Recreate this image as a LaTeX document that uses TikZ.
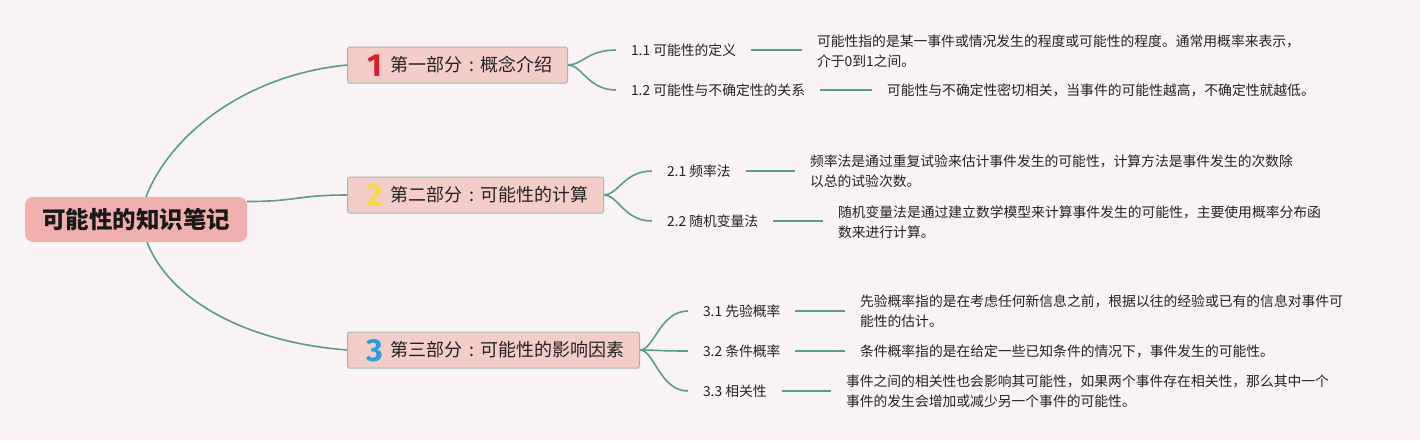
\documentclass[tikz,border=0pt]{standalone}
\usepackage{fontspec}
\setmainfont{Noto Sans CJK SC}
\newfontfamily\numfont{Fira Sans}
\definecolor{bgcol}{HTML}{F9F3F5}
\definecolor{conncol}{HTML}{5B9C88}
\definecolor{rootfill}{HTML}{F0B0AD}
\definecolor{boxfill}{HTML}{F3CDC8}
\definecolor{boxline}{HTML}{A3B8AE}
\definecolor{textcol}{HTML}{222222}
\definecolor{numred}{HTML}{D91F2B}
\definecolor{numyellow}{HTML}{F5DA48}
\definecolor{numblue}{HTML}{2D9CDB}
\newcommand\pnum[2]{\makebox[25pt][c]{\raisebox{-4.5pt}{\color{#1}\numfont\bfseries\fontsize{32}{32}\selectfont #2}}\hspace{3pt}}
\newcommand\ccolon{\makebox[18pt][c]{:}}
\begin{document}
\begin{tikzpicture}[x=1pt,y=-1pt,
  conn/.style={draw=conncol, line width=1.6pt},
  rootbox/.style={fill=rootfill, rounded corners=8pt, minimum width=222pt, minimum height=45pt, inner sep=0pt, font=\fontsize{23.5}{26}\selectfont\bfseries, text=black!90},
  partbox/.style={fill=boxfill, draw=boxline, line width=1pt, rounded corners=1.5pt, minimum height=36pt, inner xsep=15pt, inner ysep=0pt, text height=15pt, text depth=2pt, anchor=west, font=\fontsize{18}{20}\selectfont, text=textcol},
  leaf/.style={inner sep=0pt, outer xsep=15pt, anchor=west, font=\fontsize{13.8}{20}\selectfont, text=textcol},
  desc/.style={inner sep=0pt, outer xsep=15pt, anchor=west, align=left, font=\fontsize{13.8}{20}\selectfont, text=textcol}]
\fill[bgcol] (0,0) rectangle (1420,440);
\useasboundingbox (0,0) rectangle (1420,440);

\node[rootbox] (root) at (136,219.5) {可能性的知识笔记};

\node[partbox] (b1) at (347,65) {\pnum{numred}{1}第一部分\ccolon 概念介绍};
\node[partbox] (b2) at (347,195) {\pnum{numyellow}{2}第二部分\ccolon 可能性的计算};
\node[partbox] (b3) at (347,350) {\pnum{numblue}{3}第三部分\ccolon 可能性的影响因素};

\node[leaf] (l11) at (616,50) {1.1 可能性的定义};
\node[leaf] (l12) at (616,90) {1.2 可能性与不确定性的关系};
\node[leaf] (l21) at (652,171) {2.1 频率法};
\node[leaf] (l22) at (652,221) {2.2 随机变量法};
\node[leaf] (l31) at (688,311) {3.1 先验概率};
\node[leaf] (l32) at (688,351) {3.2 条件概率};
\node[leaf] (l33) at (688,391) {3.3 相关性};

\node[desc] (d11) at (802,51) {可能性指的是某一事件或情况发生的程度或可能性的程度。通常用概率来表示，\\介于0到1之间。};
\node[desc] (d12) at (872,90) {可能性与不确定性密切相关，当事件的可能性越高，不确定性就越低。};
\node[desc] (d21) at (795,171) {频率法是通过重复试验来估计事件发生的可能性，计算方法是事件发生的次数除\\以总的试验次数。};
\node[desc] (d22) at (823,222) {随机变量法是通过建立数学模型来计算事件发生的可能性，主要使用概率分布函\\数来进行计算。};
\node[desc] (d31) at (845,311) {先验概率指的是在考虑任何新信息之前，根据以往的经验或已有的信息对事件可\\能性的估计。};
\node[desc] (d32) at (845,351) {条件概率指的是在给定一些已知条件的情况下，事件发生的可能性。};
\node[desc] (d33) at (831,391) {事件之间的相关性也会影响其可能性，如果两个事件存在相关性，那么其中一个\\事件的发生会增加或减少另一个事件的可能性。};

% root to parts
\draw[conn] ([xshift=10pt]root.north) .. controls (170,135) and (245,75) .. (b1.west);
\draw[conn] ([yshift=18pt]root.east) .. controls +(50,0) and +(-50,0) .. (b2.west);
\draw[conn] ([xshift=11pt]root.south) .. controls (170,300) and (245,342) .. (b3.west);

% parts to leaves
\foreach \b/\l in {b1/l11,b1/l12,b2/l21,b2/l22,b3/l31,b3/l32,b3/l33}
  \draw[conn] (\b.east) .. controls +(14,0) and +(-28,0) .. (\l.west);

% leaves to descriptions
\foreach \l/\d in {l11/d11,l12/d12,l21/d21,l22/d22,l31/d31,l32/d32,l33/d33}
  \draw[conn] (\l.east) -- (\l.east -| \d.west);
\end{tikzpicture}
\end{document}
